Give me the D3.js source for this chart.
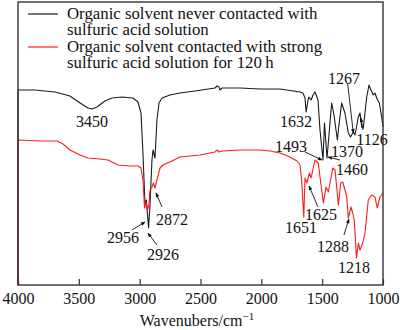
<!DOCTYPE html>
<html>
<head>
<meta charset="utf-8">
<script src="https://cdn.jsdelivr.net/npm/d3@7"></script>
<style>
  html, body { margin: 0; padding: 0; background: #fff; }
  svg { display: block; font-family: "Liberation Serif", "Times New Roman", serif; }
</style>
</head>
<body>
<svg id="chart" width="400" height="330"></svg>
<script>
// FTIR spectra: wavenumber (cm^-1) and transmittance (arbitrary units)
const seriesNames = [
  ["Organic solvent never contacted with", "sulfuric acid solution"],
  ["Organic solvent contacted with strong", "sulfuric acid solution for 120\u2009h"]
];
const seriesColors = ["#1a1a1a", "#ff1a1a"];

const untreatedWavenumber = [4000, 4000, 3860, 3696, 3573, 3490, 3425, 3392, 3351, 3285, 3227, 3145, 3055, 3014, 2989, 2973, 2956, 2945, 2927, 2915, 2899, 2890, 2874, 2858, 2841, 2816, 2751, 2669, 2545, 2381, 2364, 2348, 2340, 2323, 2175, 2011, 1847, 1682, 1658, 1641, 1632, 1616, 1608, 1591, 1575, 1559, 1534, 1518, 1493, 1481, 1460, 1444, 1422, 1403, 1375, 1362, 1340, 1313, 1285, 1267, 1244, 1230, 1203, 1189, 1175, 1162, 1134, 1115, 1099, 1080, 1066, 1052, 1030, 1011, 1000];
const untreatedT = [0, 195, 195, 193, 189, 182, 177, 176, 178, 184, 187, 188, 187, 183, 172, 132, 80, 85, 57, 80, 125, 135, 127, 165, 182, 187, 190, 192, 194, 197, 199, 198, 195, 197, 197, 196, 196, 193, 192, 187, 173, 185, 188, 185, 190, 193, 185, 155, 125, 162, 127, 150, 182, 170, 145, 160, 182, 172, 152, 148, 153, 150, 168, 172, 158, 157, 188, 200, 195, 190, 192, 187, 182, 168, 158];

const treatedWavenumber = [4000, 4000, 3819, 3679, 3630, 3573, 3490, 3425, 3326, 3260, 3178, 3079, 3014, 2989, 2973, 2960, 2948, 2936, 2924, 2915, 2899, 2887, 2874, 2858, 2833, 2808, 2751, 2669, 2504, 2381, 2364, 2348, 2323, 2175, 2011, 1929, 1847, 1764, 1707, 1682, 1669, 1651, 1641, 1625, 1605, 1591, 1559, 1532, 1518, 1490, 1468, 1449, 1413, 1394, 1376, 1367, 1348, 1331, 1313, 1298, 1285, 1263, 1249, 1236, 1218, 1203, 1189, 1167, 1148, 1121, 1093, 1066, 1047, 1025, 1000];
const treatedT = [0, 145, 144, 144, 141, 135, 130, 127, 126, 125, 120, 119, 119, 117, 105, 77, 83, 75, 80, 95, 98, 102, 97, 105, 117, 120, 123, 128, 130, 133, 135, 133, 134, 135, 135, 134, 132, 128, 124, 120, 105, 68, 107, 102, 112, 107, 125, 122, 108, 82, 98, 93, 117, 115, 92, 80, 102, 103, 95, 88, 67, 78, 72, 65, 27, 42, 35, 42, 52, 85, 90, 88, 77, 88, 92];

const xTicks = [4000, 3500, 3000, 2500, 2000, 1500, 1000];

// Peak annotations: label text, label anchor, optional pointer line (from -> to)
const peakLabels = ["3450", "1632", "1267", "1126", "1493", "1370", "1460", "1625", "1651", "1288", "1218", "2956", "2926", "2872"];
const labelWavenumber = [3392, 1715, 1320, 1090, 1756, 1296, 1255, 1510, 1674, 1411, 1238, 3137, 2808, 2734];
const labelT = [158, 158, 201, 140, 133, 128, 110, 65, 52, 33, 12, 42, 25, 60];
const pointerFrom = [null, null, [1291, 202], [1164, 155], [1641, 133], null, [1354, 125], [1534, 78], null, [1321, 50], null, [3063, 55], [2858, 40], [2816, 78]];
const pointerTo = [null, null, [1244, 152], [1181, 167], [1501, 125], null, [1452, 128], [1608, 99], null, [1280, 66], null, [2956, 63], [2932, 52], [2866, 92]];

const svg = d3.select("#chart");
const plot = { left: 18, right: 383, top: 2, bottom: 285 };

const x = d3.scaleLinear().domain([4000, 1000]).range([plot.left, plot.right]);
const y = d3.scaleLinear().domain([0, 283]).range([plot.bottom, plot.top]);

const line = d3.line().x(d => x(d[0])).y(d => y(d[1]));

const spectra = [
  d3.zip(untreatedWavenumber, untreatedT),
  d3.zip(treatedWavenumber, treatedT)
];

spectra.forEach((pts, i) => {
  svg.append("path")
    .attr("d", line(pts))
    .attr("fill", "none")
    .attr("stroke", seriesColors[i])
    .attr("stroke-width", 1.1)
    .attr("stroke-linejoin", "round");
});

// Frame
svg.append("rect")
  .attr("x", plot.left).attr("y", plot.top)
  .attr("width", plot.right - plot.left).attr("height", plot.bottom - plot.top)
  .attr("fill", "none").attr("stroke", "#333").attr("stroke-width", 1.4);

// Bottom axis with inward ticks
const xAxis = d3.axisBottom(x).tickValues(xTicks).tickSize(-6).tickPadding(8).tickFormat(d3.format("d"));
const gx = svg.append("g").attr("transform", `translate(0,${plot.bottom})`).call(xAxis);
gx.select(".domain").remove();
gx.selectAll(".tick line").attr("stroke", "#333").attr("stroke-width", 1.2);
gx.selectAll(".tick text").attr("fill", "#111").style("font-size", "16px")
  .style("font-family", "'Liberation Serif', 'Times New Roman', serif");

// Axis title
const title = svg.append("text")
  .attr("x", 197).attr("y", 326)
  .attr("text-anchor", "middle")
  .attr("fill", "#111")
  .style("font-size", "16px");
title.append("tspan").text("Wavenubers/cm");
title.append("tspan").attr("dy", -6).style("font-size", "11px").text("\u22121");

// Arrow marker for pointers
svg.append("defs").append("marker")
  .attr("id", "arrow")
  .attr("viewBox", "0 0 10 10")
  .attr("refX", 9).attr("refY", 5)
  .attr("markerWidth", 6).attr("markerHeight", 5)
  .attr("orient", "auto")
  .append("path").attr("d", "M0,1 L10,5 L0,9 Z").attr("fill", "#111");

peakLabels.forEach((txt, i) => {
  if (pointerFrom[i]) {
    svg.append("line")
      .attr("x1", x(pointerFrom[i][0])).attr("y1", y(pointerFrom[i][1]))
      .attr("x2", x(pointerTo[i][0])).attr("y2", y(pointerTo[i][1]))
      .attr("stroke", "#111").attr("stroke-width", 0.9)
      .attr("marker-end", "url(#arrow)");
  }
  svg.append("text")
    .attr("x", x(labelWavenumber[i])).attr("y", y(labelT[i]))
    .attr("text-anchor", "middle")
    .attr("fill", "#111")
    .style("font-size", "16px")
    .text(txt);
});

// Legend
const legend = svg.append("g");
const legendLineY = [14, 47];
const legendTextY = [[19, 35], [52, 68]];
seriesNames.forEach((lines, i) => {
  legend.append("line")
    .attr("x1", 28).attr("x2", 58)
    .attr("y1", legendLineY[i]).attr("y2", legendLineY[i])
    .attr("stroke", seriesColors[i]).attr("stroke-width", 1.2);
  lines.forEach((t, j) => {
    legend.append("text")
      .attr("x", 67).attr("y", legendTextY[i][j])
      .attr("fill", "#111")
      .style("font-size", "16.8px")
      .text(t);
  });
});
</script>
</body>
</html>
